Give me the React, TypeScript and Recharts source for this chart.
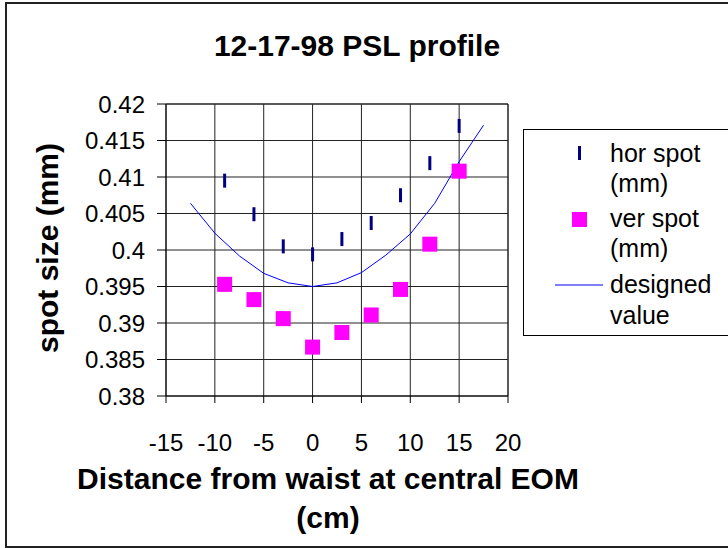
import { ScatterChart, Scatter, XAxis, YAxis, CartesianGrid, ReferenceLine } from 'recharts';

const FONT = '"Liberation Sans", Arial, sans-serif';

// measured positions along the beam (cm)
const spotX = [-9, -6, -3, 0, 3, 6, 9, 12, 15];
const horSpot = [0.4095, 0.4049, 0.4005, 0.3994, 0.4015, 0.4037, 0.4075, 0.4119, 0.417];
const verSpot = [0.3953, 0.3932, 0.3906, 0.3867, 0.3887, 0.3911, 0.3946, 0.4008, 0.4108];

// design curve
const designedX = [-12.5, -10, -7.5, -5, -2.5, 0, 2.5, 5, 7.5, 10, 12.5, 15, 17.5];
const designed = [0.4064, 0.4023, 0.3992, 0.3968, 0.3955, 0.395, 0.3955, 0.3969, 0.3993, 0.4022, 0.4064, 0.4121, 0.4171];

const xTicks = [-15, -10, -5, 0, 5, 10, 15, 20];
const yTicks = [0.38, 0.385, 0.39, 0.395, 0.4, 0.405, 0.41, 0.415, 0.42];

const horData = spotX.map((x, i) => ({ x, y: horSpot[i] }));
const verData = spotX.map((x, i) => ({ x, y: verSpot[i] }));
const designedData = designedX.map((x, i) => ({ x, y: designed[i] }));

const Dash = (p: any) => (
  <rect x={p.cx - 1.5} y={p.cy - 7} width={3} height={14} fill="#000080" />
);
const Square = (p: any) => (
  <rect x={p.cx - 7.5} y={p.cy - 7.5} width={15} height={15} fill="#FF00FF" />
);
const NoDot = () => <g />;

function LegendBox() {
  return (
    <div
      style={{
        position: 'absolute', left: 523, top: 129, width: 230, height: 207,
        border: '1px solid #000', background: '#fff', boxSizing: 'border-box',
      }}
    >
      <svg width={230} height={207} style={{ display: 'block' }}>
        <rect x={54} y={16} width={3} height={14} fill="#000080" />
        <rect x={48} y={82} width={15} height={15} fill="#FF00FF" />
        <line x1={31} x2={79} y1={155} y2={155} stroke="#0000FF" strokeWidth={1} />
        <g fontFamily={FONT} fontSize={25} fill="#000">
          <text x={86} y={32}>hor spot</text>
          <text x={86} y={62}>(mm)</text>
          <text x={86} y={97}>ver spot</text>
          <text x={86} y={127}>(mm)</text>
          <text x={86} y={163}>designed</text>
          <text x={86} y={194}>value</text>
        </g>
      </svg>
    </div>
  );
}

export default function App() {
  return (
    <div style={{ position: 'absolute', left: 0, top: 0, width: 728, height: 548, background: '#fff', overflow: 'hidden' }}>
      <div
        style={{
          position: 'absolute', left: 5, top: 2, width: 760, height: 546,
          border: '2px solid #222', boxSizing: 'border-box',
        }}
      />
      <ScatterChart width={728} height={548} margin={{ top: 104, right: 220, bottom: 92, left: 0 }}>
        <CartesianGrid stroke="#222" strokeWidth={1} />
        <XAxis
          type="number"
          dataKey="x"
          domain={[-15, 20]}
          ticks={xTicks}
          interval={0}
          height={60}
          tickSize={7}
          tickMargin={31}
          axisLine={{ stroke: '#000' }}
          tickLine={{ stroke: '#000' }}
          tick={{ fontSize: 24, fill: '#000', fontFamily: FONT }}
        />
        <YAxis
          type="number"
          dataKey="y"
          domain={[0.38, 0.42]}
          ticks={yTicks}
          interval={0}
          width={166}
          tickSize={9}
          tickMargin={12}
          axisLine={{ stroke: '#000' }}
          tickLine={{ stroke: '#000' }}
          tick={{ fontSize: 24, fill: '#000', fontFamily: FONT }}
        />
        <ReferenceLine y={0.42} stroke="#222" />
        <ReferenceLine x={20} stroke="#222" />
        <Scatter
          name="designed value"
          data={designedData}
          line={{ stroke: '#0000FF', strokeWidth: 1 }}
          shape={NoDot}
          isAnimationActive={false}
        />
        <Scatter name="hor spot (mm)" data={horData} shape={Dash} isAnimationActive={false} />
        <Scatter name="ver spot (mm)" data={verData} shape={Square} isAnimationActive={false} />
      </ScatterChart>
      <svg width={728} height={548} style={{ position: 'absolute', left: 0, top: 0, pointerEvents: 'none' }}>
        <g fontFamily={FONT} fontWeight="bold" fill="#000" textAnchor="middle">
          <text x={357} y={56} fontSize={30}>12-17-98 PSL profile</text>
          <text x={47} y={248} fontSize={30} transform="rotate(-90 47 248)" dominantBaseline="central">spot size (mm)</text>
          <text x={328} y={489} fontSize={30}>Distance from waist at central EOM</text>
          <text x={328} y={528} fontSize={30}>(cm)</text>
        </g>
      </svg>
      <LegendBox />
    </div>
  );
}
